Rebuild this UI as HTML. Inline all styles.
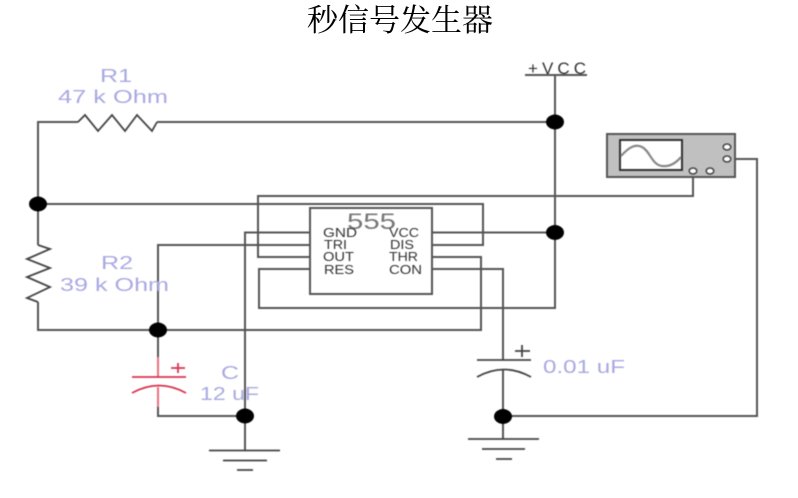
<!DOCTYPE html>
<html lang="zh">
<head>
<meta charset="utf-8">
<title>秒信号发生器</title>
<style>
html,body{margin:0;padding:0;background:#fff;width:798px;height:498px;overflow:hidden}
svg{display:block;position:absolute;left:0;top:0}
.w{fill:none;stroke:#555;stroke-width:2}
.d{fill:none;stroke:#444;stroke-width:1.8}
.l{font-family:"Liberation Sans",sans-serif;font-size:18px;fill:#a9a9e2}
.p{font-family:"Liberation Sans",sans-serif;font-size:12.5px;fill:#333}
.t{font-family:"Liberation Serif","Noto Serif CJK SC",serif;font-size:31px;fill:#000}
</style>
</head>
<body>
<svg width="798" height="498" viewBox="0 0 798 498" xmlns="http://www.w3.org/2000/svg">
<g style="filter:blur(0.6px)">
  <!-- wires -->
  <path class="w" d="M38 204V122H78M157 122H555"/>
  <path class="w" d="M525 75H587M555 75V308H259V269H310"/>
  <path class="w" d="M38 204H483V245H432"/>
  <path class="w" d="M310 257H258V196H693V171"/>
  <path class="w" d="M310 245H158V357"/>
  <path class="w" d="M310 232.500H245V450"/>
  <path class="w" d="M432 232.500H555"/>
  <path class="w" d="M432 257H481V330H38V302"/>
  <path class="w" d="M38 204V245"/>
  <path class="w" d="M432 269H503V360M503 369V439"/>
  <path class="w" d="M158 407V416H245"/>
  <path class="w" d="M503 416H757V159H730"/>

  <!-- R1 -->
  <path class="d" d="M78 122L85 115L98 131L112 115L125 131L137 115L152 131L157 122"/>
  <!-- R2 -->
  <path class="d" d="M38 245L50 249L27 259L50 268L27 277L50 287L27 298L38 302"/>

  <!-- 555 chip -->
  <rect x="310" y="208" width="122" height="86" fill="#fff" stroke="#555" stroke-width="2"/>
  <text x="347" y="229" style="font-family:'Liberation Sans',sans-serif;font-size:22px;fill:#777" textLength="49" lengthAdjust="spacingAndGlyphs">555</text>
  <text class="p" x="323" y="237" textLength="34" lengthAdjust="spacingAndGlyphs">GND</text>
  <text class="p" x="324" y="249" textLength="23" lengthAdjust="spacingAndGlyphs">TRI</text>
  <text class="p" x="323" y="261" textLength="31" lengthAdjust="spacingAndGlyphs">OUT</text>
  <text class="p" x="324" y="274" textLength="30" lengthAdjust="spacingAndGlyphs">RES</text>
  <text class="p" x="389" y="237" textLength="30" lengthAdjust="spacingAndGlyphs">VCC</text>
  <text class="p" x="390" y="249" textLength="24" lengthAdjust="spacingAndGlyphs">DIS</text>
  <text class="p" x="389" y="261" textLength="29" lengthAdjust="spacingAndGlyphs">THR</text>
  <text class="p" x="389" y="274" textLength="33" lengthAdjust="spacingAndGlyphs">CON</text>

  <!-- capacitor C -->
  <path d="M158 357V377M158 387V407" fill="none" stroke="#e9707f" stroke-width="2"/>
  <path d="M132 377H186" fill="none" stroke="#d8344f" stroke-width="1.8"/>
  <path d="M132 393Q159 378 186 393" fill="none" stroke="#d8344f" stroke-width="1.8"/>
  <path d="M171 368H185M178 363V373" fill="none" stroke="#d8344f" stroke-width="1.8"/>

  <!-- capacitor 0.01uF -->
  <path class="d" d="M477 360H531"/>
  <path class="d" d="M477 377Q504 362 531 377"/>
  <path class="d" d="M515 351H530M522 345V357"/>

  <!-- grounds -->
  <path class="d" d="M209 450.500H280M223 460.500H267M237 470H253"/>
  <path class="d" d="M468 439H539M482 449H525M496 459H512"/>

  <!-- junctions -->
  <ellipse cx="555" cy="122" rx="9" ry="7.500" fill="#000"/>
  <ellipse cx="555" cy="232.500" rx="9" ry="7.500" fill="#000"/>
  <ellipse cx="38" cy="204" rx="9" ry="7.500" fill="#000"/>
  <ellipse cx="158" cy="330" rx="9" ry="7.500" fill="#000"/>
  <ellipse cx="245" cy="416" rx="9" ry="7.500" fill="#000"/>
  <ellipse cx="503" cy="416.500" rx="9" ry="7.500" fill="#000"/>

  <!-- oscilloscope -->
  <rect x="607" y="134" width="128" height="43" fill="#c0c0c0" stroke="#555" stroke-width="2"/>
  <rect x="620" y="140" width="62" height="30" fill="#fff" stroke="#333" stroke-width="2"/>
  <path d="M621 156C630 146 636 144 642 147C650 151 652 165 662 166C670 167 676 163 681 157" fill="none" stroke="#888" stroke-width="2.200"/>
  <g fill="#fff" stroke="#444" stroke-width="1.500">
    <ellipse cx="693" cy="171" rx="3.800" ry="3"/>
    <ellipse cx="710" cy="171" rx="3.800" ry="3"/>
    <ellipse cx="727" cy="147" rx="3.800" ry="3"/>
    <ellipse cx="727" cy="159" rx="3.800" ry="3"/>
  </g>

  <!-- labels -->
  <text x="528" y="74" style="font-family:'Liberation Sans',sans-serif;font-size:17px;fill:#333" textLength="58" lengthAdjust="spacing">+ V C C</text>
  <text class="l" x="100" y="82" textLength="32" lengthAdjust="spacingAndGlyphs">R1</text>
  <text class="l" x="58" y="103" textLength="110" lengthAdjust="spacingAndGlyphs">47 k Ohm</text>
  <text class="l" x="101" y="269" textLength="32" lengthAdjust="spacingAndGlyphs">R2</text>
  <text class="l" x="60" y="291" textLength="109" lengthAdjust="spacingAndGlyphs">39 k Ohm</text>
  <text class="l" x="221" y="379" textLength="18" lengthAdjust="spacingAndGlyphs">C</text>
  <text class="l" x="200" y="400" textLength="59" lengthAdjust="spacingAndGlyphs">12 uF</text>
  <text class="l" x="543" y="373" textLength="82" lengthAdjust="spacingAndGlyphs">0.01 uF</text>
</g>
<text class="t" x="307" y="31" textLength="186">秒信号发生器</text>
</svg>
</body>
</html>
